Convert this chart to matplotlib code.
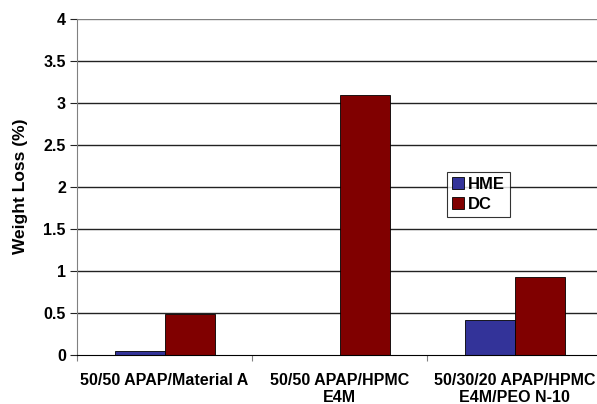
import numpy as np
import matplotlib
matplotlib.use("Agg")
import matplotlib.pyplot as plt

categories = ["50/50 APAP/Material A", "50/50 APAP/HPMC\nE4M", "50/30/20 APAP/HPMC\nE4M/PEO N-10"]
hme = [0.05, 0.0, 0.42]
dc = [0.49, 3.1, 0.93]
yticks = [0, 0.5, 1, 1.5, 2, 2.5, 3, 3.5, 4]
ytick_labels = ["0", "0.5", "1", "1.5", "2", "2.5", "3", "3.5", "4"]

plt.rcParams['font.family'] = ['Liberation Sans', 'DejaVu Sans']
plt.rcParams['font.weight'] = 'bold'

fig = plt.figure(figsize=(5.97, 4.04), dpi=100)
ax = fig.add_axes([77 / 597, 49 / 404, 525 / 597, 336 / 404])

x = np.arange(len(categories))
w = 1 / 3.5
ax.bar(x - w / 2, hme, w, color='#333399', edgecolor='black', linewidth=0.6, label='HME', zorder=3)
ax.bar(x + w / 2, dc, w, color='#800000', edgecolor='black', linewidth=0.6, label='DC', zorder=3)

ax.set_xlim(-0.5, 2.5)
ax.set_ylim(0, 4)
ax.set_yticks(yticks)
ax.set_yticklabels(ytick_labels, fontsize=11.5, fontweight='bold')
for y in yticks[1:]:
    ax.axhline(y, color='#808080' if y == 4 else '#222222', linewidth=1.0, zorder=1)

# category boundary ticks
ax.set_xticks([-0.5, 0.5, 1.5, 2.5])
ax.set_xticklabels([])
ax.tick_params(axis='x', direction='out', length=4, color='#808080')
ax.tick_params(axis='y', direction='out', length=5, color='#222222', pad=3)
for i, lab in enumerate(categories):
    ax.annotate(lab, xy=(i, 0), xycoords='data', xytext=(0, -13), textcoords='offset points',
                ha='center', va='top', fontsize=11.5, fontweight='bold', linespacing=1.15)

ax.spines['top'].set_visible(False)
ax.spines['right'].set_visible(False)
ax.spines['left'].set_color('#808080')
ax.spines['bottom'].set_color('black')
ax.spines['bottom'].set_zorder(4)

fig.text(21 / 597, 1 - 186 / 404, 'Weight Loss (%)', rotation=90, ha='center', va='center',
         fontsize=12.5, fontweight='bold')

leg = ax.legend(loc='upper left', bbox_to_anchor=((447 - 77) / 525, (355 - 172) / 336),
                fontsize=12, frameon=True, fancybox=False, edgecolor='black',
                handlelength=0.7, handleheight=0.7, handletextpad=0.25,
                borderpad=0.3, labelspacing=0.3, borderaxespad=0)
leg.get_frame().set_linewidth(0.8)
for t in leg.get_texts():
    t.set_fontweight('bold')

fig.savefig('out.png', dpi=100)
